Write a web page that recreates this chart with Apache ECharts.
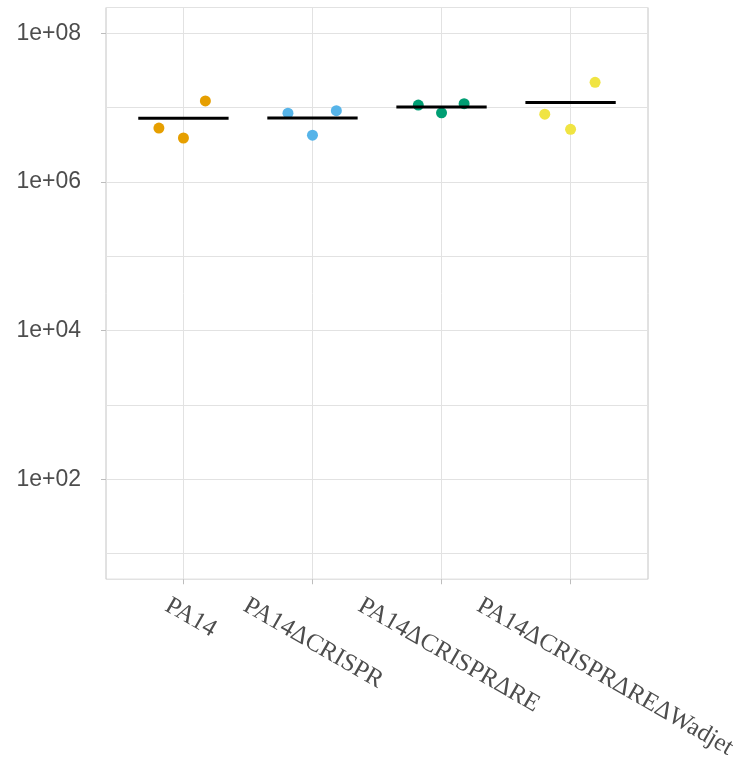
<!DOCTYPE html>
<html>
<head>
<meta charset="utf-8">
<script src="https://cdn.jsdelivr.net/npm/echarts@6/dist/echarts.min.js"></script>
<style>
html,body{margin:0;padding:0;background:#ffffff;}
#chart{width:748px;height:762px;}
</style>
</head>
<body>
<div id="chart"></div>
<script>
// ---- data ----
const categories = ['PA14', 'PA14ΔCRISPR', 'PA14ΔCRISPRΔRE', 'PA14ΔCRISPRΔREΔWadjet'];
const valuesPA14   = [5.3e6, 3.9e6, 1.23e7];
const valuesCRISPR = [8.4e6, 4.25e6, 9.1e6];
const valuesRE     = [1.08e7, 8.5e6, 1.13e7];
const valuesWadjet = [8.15e6, 5.1e6, 2.19e7];
// horizontal jitter of each point (category units)
const jitterPA14   = [-0.19, 0, 0.17];
const jitterCRISPR = [-0.19, 0, 0.185];
const jitterRE     = [-0.18, 0, 0.175];
const jitterWadjet = [-0.2, 0, 0.19];
const yTickValues = [1e2, 1e4, 1e6, 1e8];

// ---- styling / layout ----
const colors = ['#E69F00', '#56B4E9', '#009E73', '#F0E442'];
const labelShift = [-0.078, -0.473, -0.583, -0.663];
const meanHalfWidth = 0.35;

const groups = [
  [valuesPA14, jitterPA14],
  [valuesCRISPR, jitterCRISPR],
  [valuesRE, jitterRE],
  [valuesWadjet, jitterWadjet]
];

const scatterSeries = groups.map(function (g, i) {
  return {
    type: 'scatter',
    name: categories[i],
    xAxisIndex: 0,
    yAxisIndex: 0,
    symbol: 'circle',
    symbolSize: 11,
    itemStyle: { color: colors[i], opacity: 1 },
    z: 2,
    data: g[0].map(function (v, k) { return [i + 1 + g[1][k], v]; })
  };
});

const means = groups.map(function (g, i) {
  const s = g[0].reduce(function (a, b) { return a + b; }, 0);
  return [i + 1, s / g[0].length];
});

const meanSeries = {
  type: 'custom',
  xAxisIndex: 0,
  yAxisIndex: 0,
  z: 5,
  data: means,
  renderItem: function (params, api) {
    const x = api.value(0), y = api.value(1);
    const p1 = api.coord([x - meanHalfWidth, y]);
    const p2 = api.coord([x + meanHalfWidth, y]);
    return {
      type: 'line',
      shape: { x1: p1[0], y1: p1[1], x2: p2[0], y2: p2[1] },
      style: { stroke: '#000000', lineWidth: 3, lineCap: 'butt' }
    };
  }
};

const labelAnchors = categories.map(function (c, i) { return i + 1 + labelShift[i]; });

function fmtExp(v) {
  const e = Math.log10(v);
  const r = Math.round(e);
  if (Math.abs(e - r) > 1e-6 || r % 2 !== 0) return '';
  return '1e+' + (r < 10 ? '0' + r : String(r));
}

const yMin = 4.508, yMax = 2.223e8;

const option = {
  animation: false,
  backgroundColor: '#ffffff',
  grid: {
    left: 106, right: 100, top: 7.5, bottom: 182.5,
    show: true, borderColor: '#c4c4c4', borderWidth: 1, backgroundColor: 'transparent'
  },
  xAxis: [{
    type: 'value',
    min: 0.4, max: 4.6,
    axisLine: { show: false },
    axisTick: { show: true, customValues: [1, 2, 3, 4], length: 5, lineStyle: { color: '#bdbdbd', width: 1 } },
    splitLine: { show: true, lineStyle: { color: '#e2e2e2', width: 1 } },
    axisLabel: {
      show: true,
      customValues: labelAnchors,
      rotate: -30,
      align: 'left',
      verticalAlign: 'top',
      margin: 14,
      fontFamily: 'Liberation Serif',
      fontSize: 25,
      color: '#4d4d4d',
      formatter: function (v) {
        for (let i = 0; i < labelAnchors.length; i++) {
          if (Math.abs(v - labelAnchors[i]) < 1e-6) return categories[i];
        }
        return '';
      }
    }
  }],
  yAxis: [{
    type: 'log',
    logBase: 10,
    min: yMin, max: yMax,
    position: 'left',
    axisLine: { show: false },
    axisTick: { show: false },
    splitLine: { show: true, lineStyle: { color: '#e2e2e2', width: 1 } },
    axisLabel: {
      show: true,
      margin: 25,
      fontFamily: 'Liberation Sans',
      fontSize: 23,
      color: '#4d4d4d',
      formatter: fmtExp
    }
  }, {
    type: 'log',
    logBase: 10,
    min: yMin, max: yMax,
    position: 'left',
    axisLine: { show: false },
    axisTick: { show: true, customValues: yTickValues, length: 5, lineStyle: { color: '#bdbdbd', width: 1 } },
    splitLine: { show: false },
    axisLabel: { show: false }
  }],
  series: scatterSeries.concat([meanSeries])
};

const chart = echarts.init(document.getElementById('chart'), null, { renderer: 'canvas' });
chart.setOption(option);
</script>
</body>
</html>
